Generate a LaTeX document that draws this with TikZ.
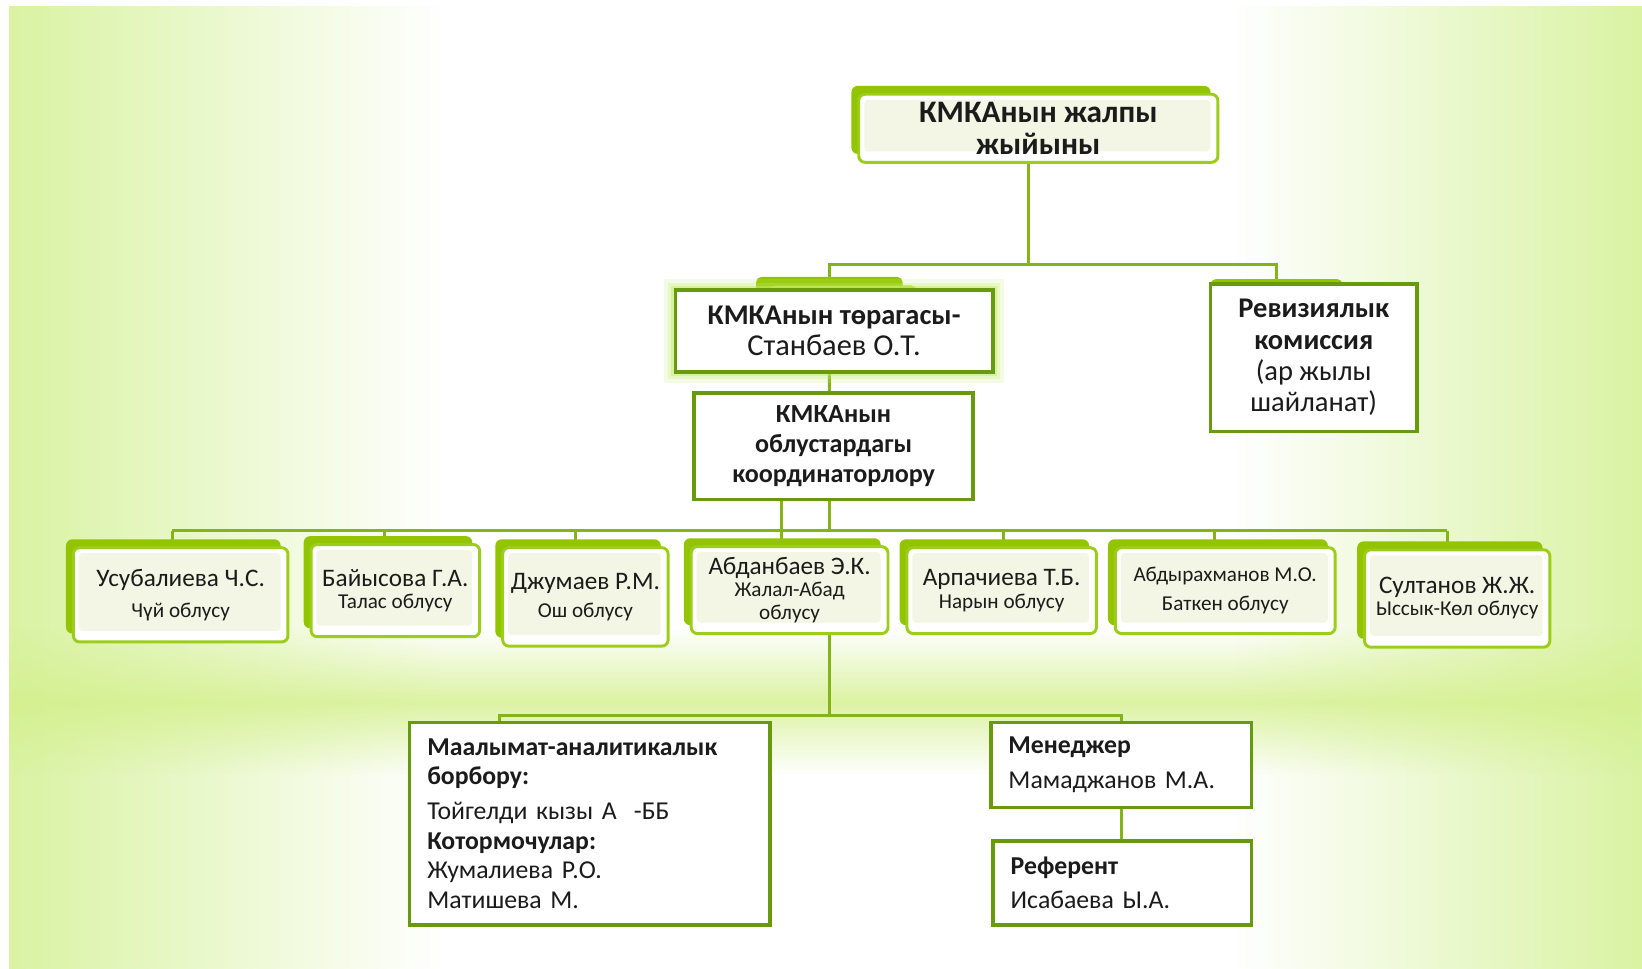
\documentclass[tikz,border=0pt]{standalone}
\usepackage{fontspec}
\setmainfont{Carlito}
\usetikzlibrary{positioning, shadows, fadings}

\definecolor{tabgreen}{HTML}{92C400}
\definecolor{tablight}{HTML}{A8D62E}
\definecolor{lightrim}{HTML}{9CCD1A}
\definecolor{darkrim}{HTML}{679A0C}
\definecolor{linkgreen}{HTML}{84B418}
\definecolor{cream}{HTML}{F3F6E4}
\definecolor{glowgreen}{HTML}{C6EC6A}
\definecolor{bgside}{HTML}{D9F3A2}
\definecolor{bgband}{HTML}{D3F08C}
\definecolor{inkcol}{HTML}{1B1B1B}

\newcommand{\bigsz}{\fontsize{15.5}{17}\selectfont}
\newcommand{\topsz}{\fontsize{17}{17}\selectfont}
\newcommand{\midsz}{\fontsize{14.2}{16.5}\selectfont}
\newcommand{\namesz}{\fontsize{13.7}{15}\selectfont}
\newcommand{\areasz}{\fontsize{11.5}{13}\selectfont}
\newcommand{\bodysz}{\fontsize{14}{16}\selectfont}

\tikzfading[name=fadeleft, left color=transparent!0, right color=transparent!100]
\tikzfading[name=faderight, left color=transparent!100, right color=transparent!0]
\tikzfading[name=fadeband, top color=transparent!100, bottom color=transparent!100, middle color=transparent!0]

\pgfdeclarelayer{bg}
\pgfdeclarelayer{lines}
\pgfsetlayers{bg,lines,main}

\tikzset{
    regionbox/.style={draw=lightrim, line width=1.6pt, fill=white, rounded corners=0.12cm,
        inner sep=0pt, align=center, text=inkcol,
        path picture={\fill [cream, rounded corners=2pt]
            ([xshift=3pt, yshift=-3pt]path picture bounding box.north west) rectangle
            ([xshift=-4pt, yshift=6pt]path picture bounding box.south east);},
        general shadow={fill=tabgreen, shadow xshift=-0.14cm, shadow yshift=0.16cm}},
    framebox/.style={draw=darkrim, line width=2pt, fill=white, inner sep=0pt,
        align=center, text=inkcol},
    glowing/.style={preaction={draw=glowgreen, line width=12pt, draw opacity=0.18},
        preaction={draw=glowgreen, line width=8pt, draw opacity=0.25},
        preaction={draw=glowgreen, line width=4.5pt, draw opacity=0.45}},
    tab/.style={fill=tabgreen, rounded corners=0.1cm, inner sep=0pt},
    link/.style={draw=linkgreen, line width=1.6pt},
}

\begin{document}
\begin{tikzpicture}[x=0.02cm, y=-0.02cm]
    \useasboundingbox (0,0) rectangle (1568,924.5);

    \begin{pgfonlayer}{bg}
        \fill [white] (0,0) rectangle (1568,924.5);
        \fill [bgside, path fading=fadeleft] (8.6,4.8) rectangle (420,924.5);
        \fill [bgside, path fading=faderight] (1180,4.8) rectangle (1568,924.5);
        \fill [bgband, path fading=fadeband, fill opacity=0.8] (8.6,600) rectangle (1568,740);
    \end{pgfonlayer}

    % top
    \node [regionbox, minimum width=6.86cm, minimum height=1.3cm, font=\topsz\bfseries]
        (general) at (991.5,122.5) {КМКАнын жалпы\\жыйыны};

    \node [tab, minimum width=2.8cm, minimum height=0.42cm] (chairtab) at (792,275) {};
    \node [tab, fill=tablight, minimum width=2.8cm, minimum height=0.3cm] (chairtabb) at (805,280) {};
    \node [framebox, glowing, minimum width=6.06cm, minimum height=1.56cm, font=\bigsz]
        (chair) at (796.5,316) {\bfseries КМКАнын төрагасы-\\\mdseries\fontsize{16.5}{17}\selectfont Станбаев О.Т.};

    \node [tab, minimum width=2.52cm, minimum height=0.3cm] (revtab) at (1219,274) {};
    \node [framebox, minimum width=3.94cm, minimum height=2.82cm, font=\bigsz]
        (rev) at (1254.5,341.5) {\bfseries Ревизиялык\\\bfseries комиссия\\(ар жылы\\шайланат)};

    \node [framebox, minimum width=5.32cm, minimum height=2.04cm, font=\midsz\bfseries]
        (coord) at (796,426) {КМКАнын\\облустардагы\\координаторлору};

    % regions
    \node [regionbox, minimum width=4.1cm, minimum height=1.8cm]
        (b1) at (172.5,568) {\namesz Усубалиева Ч.С.\\[5pt]\areasz Чүй облусу};
    \node [regionbox, minimum width=3.22cm, minimum height=1.76cm]
        (b2) at (377.5,564) {\namesz Байысова Г.А.\\[0pt]\areasz Талас облусу};
    \node [regionbox, minimum width=3.16cm, minimum height=1.88cm]
        (b3) at (559,570) {\namesz Джумаев Р.М.\\[3pt]\areasz Ош облусу};
    \node [regionbox, minimum width=3.76cm, minimum height=1.66cm]
        (b4) at (754,563.5) {\namesz Абданбаев Э.К.\\\areasz Жалал-Абад\\\areasz облусу};
    \node [regionbox, minimum width=3.62cm, minimum height=1.64cm]
        (b5) at (956.5,564) {\namesz Арпачиева Т.Б.\\[0pt]\areasz Нарын облусу};
    \node [regionbox, minimum width=4.2cm, minimum height=1.64cm]
        (b6) at (1170,564) {\areasz Абдырахманов М.О.\\[4pt]\areasz Баткен облусу};
    \node [regionbox, minimum width=3.54cm, minimum height=1.86cm]
        (b7) at (1391.5,571.5) {\namesz Султанов Ж.Ж.\\[0pt]\areasz Ыссык-Көл облусу};

    % staff
    \node [framebox, align=left, text width=6.2cm, inner xsep=0.34cm,
        minimum height=3.86cm, font=\bodysz]
        (info) at (563,786.5) {\bfseries Маалымат-аналитикалык\\борбору:\\[3pt]
        \mdseries Тойгелди кызы А~~-ББ\\\bfseries Котормочулар:\\\mdseries Жумалиева Р.О.\\Матишева М.};
    \node [framebox, align=left, text width=4.3cm, inner xsep=0.34cm,
        minimum height=1.62cm, font=\bodysz]
        (mgr) at (1070.5,730.5) {\bfseries Менеджер\\[3pt]\mdseries Мамаджанов М.А.};
    \node [framebox, align=left, text width=4.26cm, inner xsep=0.34cm,
        minimum height=1.6cm, font=\bodysz]
        (ref) at (1071.5,843) {\bfseries Референт\\[3pt]\mdseries Исабаева Ы.А.};

    \coordinate (topjoin) at (982,253);
    \coordinate (bar) at (792,507);
    \coordinate (lowjoin) at (792,683);
    \coordinate (t1) at ([xshift=-0.16cm]b1.north);
    \coordinate (t2) at ([xshift=-0.2cm]b2.north);
    \coordinate (t3) at ([xshift=-0.18cm]b3.north);
    \coordinate (t4) at ([xshift=-0.16cm]b4.north);
    \coordinate (t5) at ([xshift=0.03cm]b5.north);
    \coordinate (t6) at ([xshift=-0.2cm]b6.north);
    \coordinate (t7) at ([xshift=-0.19cm]b7.north);
    \coordinate (ti) at ([xshift=-1.72cm]info.north);

    \begin{pgfonlayer}{lines}
        \draw [link] (general.south -| topjoin) -- (topjoin);
        \draw [link] (chairtab.north) |- (topjoin) -| (revtab.north);
        \draw [link] ([xshift=-0.09cm]chair.south) -- ([xshift=-0.08cm]coord.north);
        \draw [link] (coord.south -| bar) -- (bar);
        \draw [link] (coord.south -| t4) -- (t4);
        \draw [link] (t1 |- bar) -- (t7 |- bar);
        \foreach \t in {t1, t2, t3, t5, t6, t7} {
            \draw [link] (\t |- bar) -- (\t);
        }
        \draw [link] (b4.south -| lowjoin) -- (lowjoin);
        \draw [link] (ti) |- (lowjoin) -| (mgr.north);
        \draw [link] (mgr.south) -- (mgr.south |- ref.north);
    \end{pgfonlayer}
\end{tikzpicture}
\end{document}
